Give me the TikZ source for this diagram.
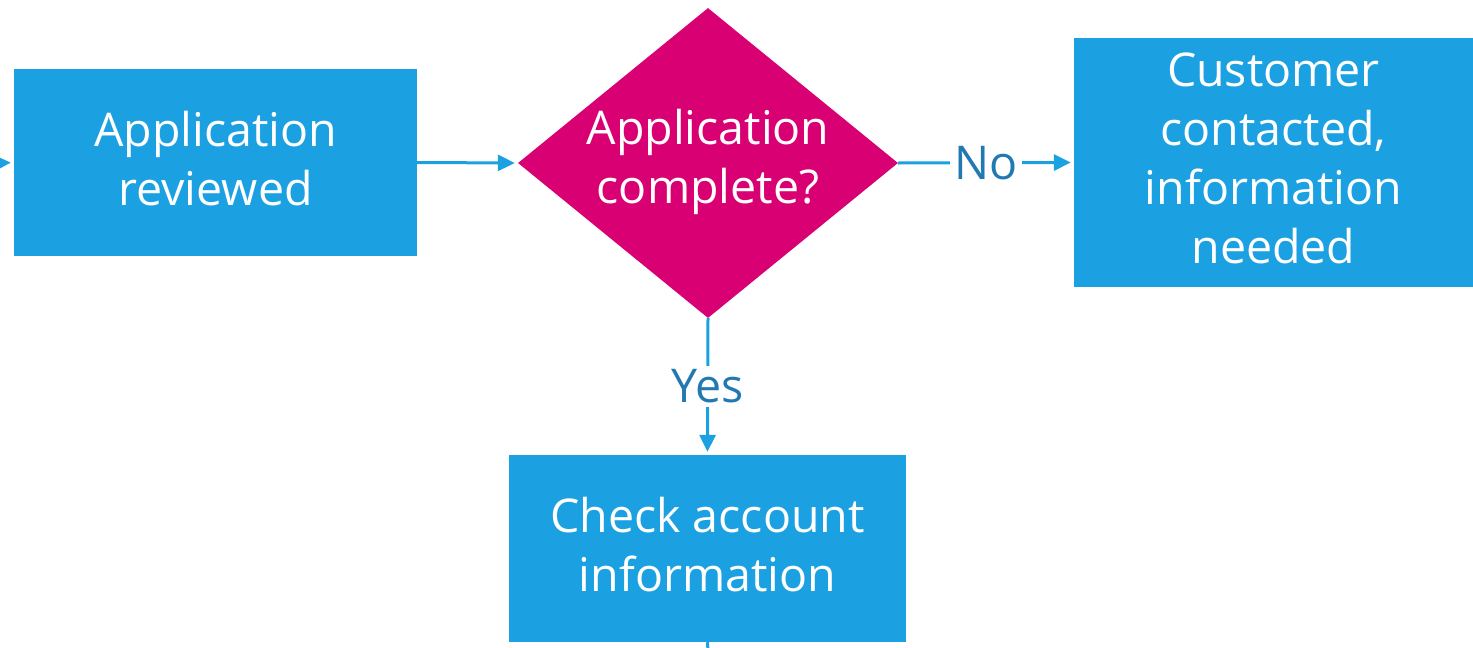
\documentclass[tikz,border=0pt]{standalone}
\usepackage{fontspec}
\setmainfont{Open Sans}
\usetikzlibrary{arrows.meta,shapes.geometric}
\definecolor{boxblue}{HTML}{1BA1E2}
\definecolor{decmag}{HTML}{D80073}
\definecolor{lblblue}{HTML}{2279B2}
\tikzset{
  stepbox/.style={rectangle, fill=boxblue, text=white, align=center, inner sep=0pt,
    text depth=8pt, font=\fontsize{46.5}{59}\selectfont},
  decision/.style={diamond, fill=decmag, inner sep=0pt, minimum width=380pt, minimum height=310pt},
  dectext/.style={text=white, align=center, font=\fontsize{46.5}{59}\selectfont},
  flow/.style={draw=boxblue, line width=3pt, -{Triangle[length=17pt,width=16pt]}, shorten >=3pt},
  plain/.style={draw=boxblue, line width=3pt},
  answer/.style={fill=white, text=lblblue, inner sep=4pt, font=\fontsize{46.5}{59}\selectfont}
}
\begin{document}
\begin{tikzpicture}[x=1pt,y=-1pt]
\useasboundingbox (0,0) rectangle (1473,648);

% process boxes and the decision
\node[stepbox, minimum width=403pt, minimum height=187pt] (review) at (215.5,162.5) {Application\\reviewed};
\node[decision] (complete) at (708,163) {};
\node[dectext] (completetxt) at (708,162) {Application\\complete?};
\node[stepbox, minimum width=399pt, minimum height=249pt] (contact) at (1273.5,162.5) {Customer\\contacted,\\information\\needed};
\node[stepbox, minimum width=397pt, minimum height=187pt] (check) at (707.5,548.5) {Check account\\information};

% loose ends entering and leaving the fragment
\coordinate (incoming) at (0,163);
\coordinate (outgoing) at (708,652);

% connectors
\draw[flow] (incoming) -- (review.west);
\draw[flow] (review.east) -- (complete.west);
\draw[flow] (complete.east) -- node[answer] {No} (contact.west);
\draw[flow] (complete.south) -- node[answer] {Yes} (check.north);
\draw[plain] (check.south) -- (outgoing);
\end{tikzpicture}
\end{document}
